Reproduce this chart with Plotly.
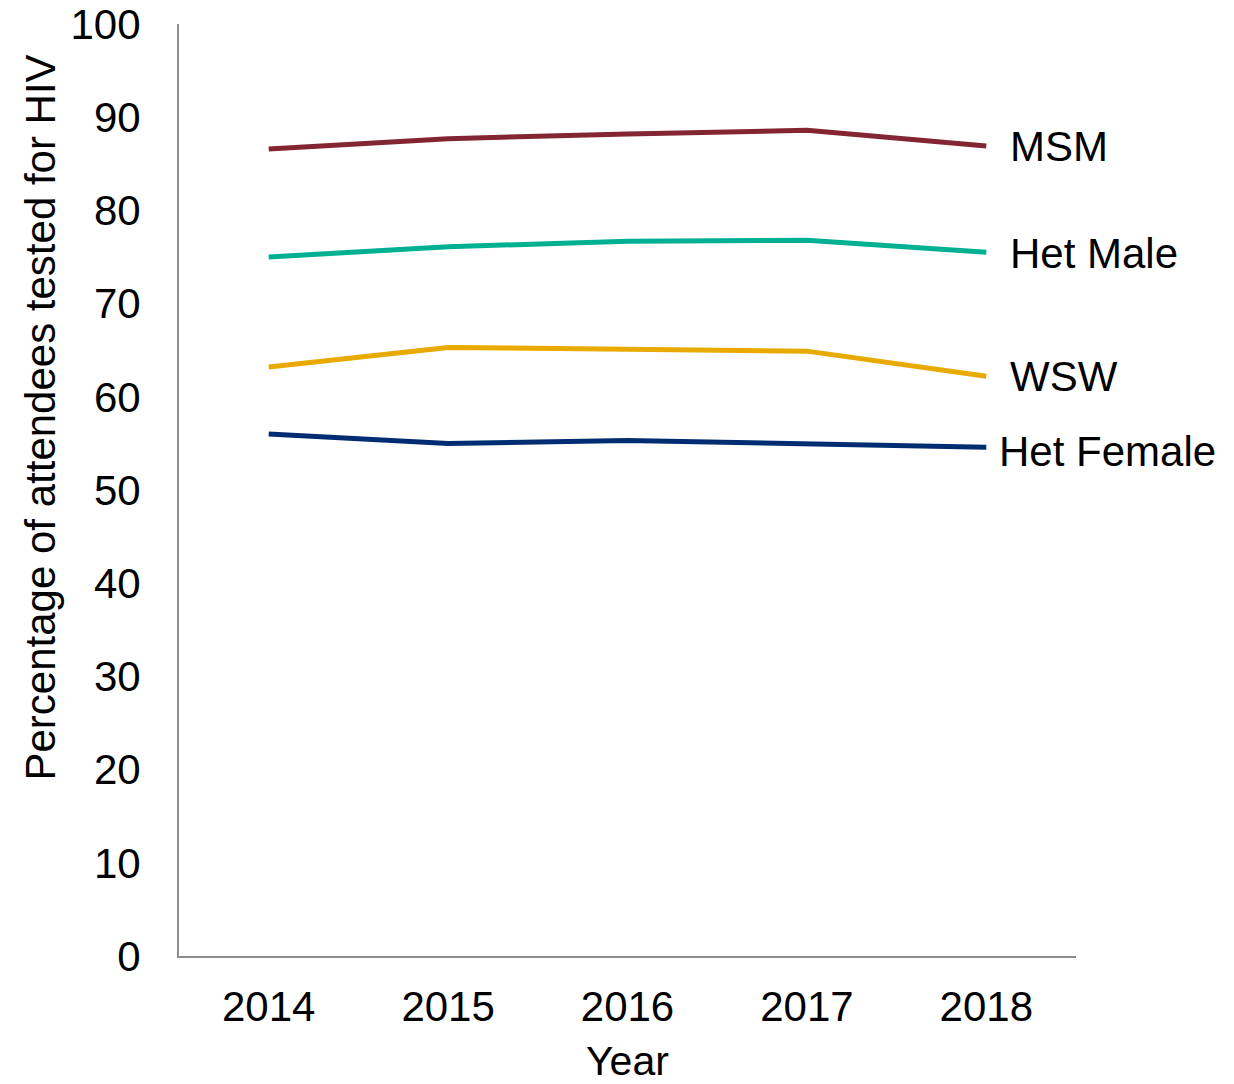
import plotly.graph_objects as go

years = ["2014", "2015", "2016", "2017", "2018"]
msm = [86.6, 87.7, 88.2, 88.6, 86.9]
het_male = [75.0, 76.1, 76.7, 76.8, 75.5]
wsw = [63.2, 65.3, 65.1, 64.9, 62.2]
het_female = [56.0, 55.0, 55.3, 55.0, 54.6]

series = [
    ("MSM", msm, "#832633", 22, 0),
    ("Het Male", het_male, "#00B092", 22, -1),
    ("WSW", wsw, "#E8A900", 22, 0),
    ("Het Female", het_female, "#002D72", 11, -4),
]

FONT = "Liberation Sans, Arial, sans-serif"
fig = go.Figure()
annotations = []
last = len(years) - 1
for name, vals, color, xs, ys in series:
    fig.add_trace(go.Scatter(x=years, y=vals, mode="lines", name=name,
                             line=dict(color=color, width=5)))
    annotations.append(dict(x=last, y=vals[-1], xref="x", yref="y",
                            text=name, showarrow=False, xanchor="left",
                            yanchor="middle", xshift=xs, yshift=ys,
                            font=dict(family=FONT, size=42, color="black")))

annotations.append(dict(x=0, y=(948 - 409.5) / 932, xref="paper", yref="paper",
                        text="Percentage of attendees tested for HIV", textangle=-90,
                        showarrow=False, xanchor="center", yanchor="middle",
                        xshift=-139, font=dict(family=FONT, size=42, color="black")))
annotations.append(dict(x=0.5, y=0, xref="paper", yref="paper", text="Year",
                        showarrow=False, xanchor="center", yanchor="middle",
                        yshift=-105, font=dict(family=FONT, size=41, color="black")))

fig.update_layout(
    width=1218, height=1068,
    margin=dict(l=171, r=150, t=16, b=120, autoexpand=False),
    plot_bgcolor="white", paper_bgcolor="white",
    showlegend=False,
    annotations=annotations,
    font=dict(family=FONT, size=42, color="black"),
)
fig.update_xaxes(type="category", range=[-0.5, 4.5], showgrid=False, zeroline=False,
                 showline=True, linecolor="#8c8c8c", linewidth=2, ticks="",
                 automargin=False, ticklabeloverflow="allow",
                 ticklabelstandoff=13, tickfont=dict(family=FONT, size=42, color="black"))
fig.update_yaxes(range=[0, 100], dtick=10, showgrid=False, zeroline=False,
                 showline=True, linecolor="#8c8c8c", linewidth=2, ticks="",
                 automargin=False, ticklabeloverflow="allow",
                 ticklabelstandoff=28, tickfont=dict(family=FONT, size=42, color="black"))

fig.write_html("out.html")
